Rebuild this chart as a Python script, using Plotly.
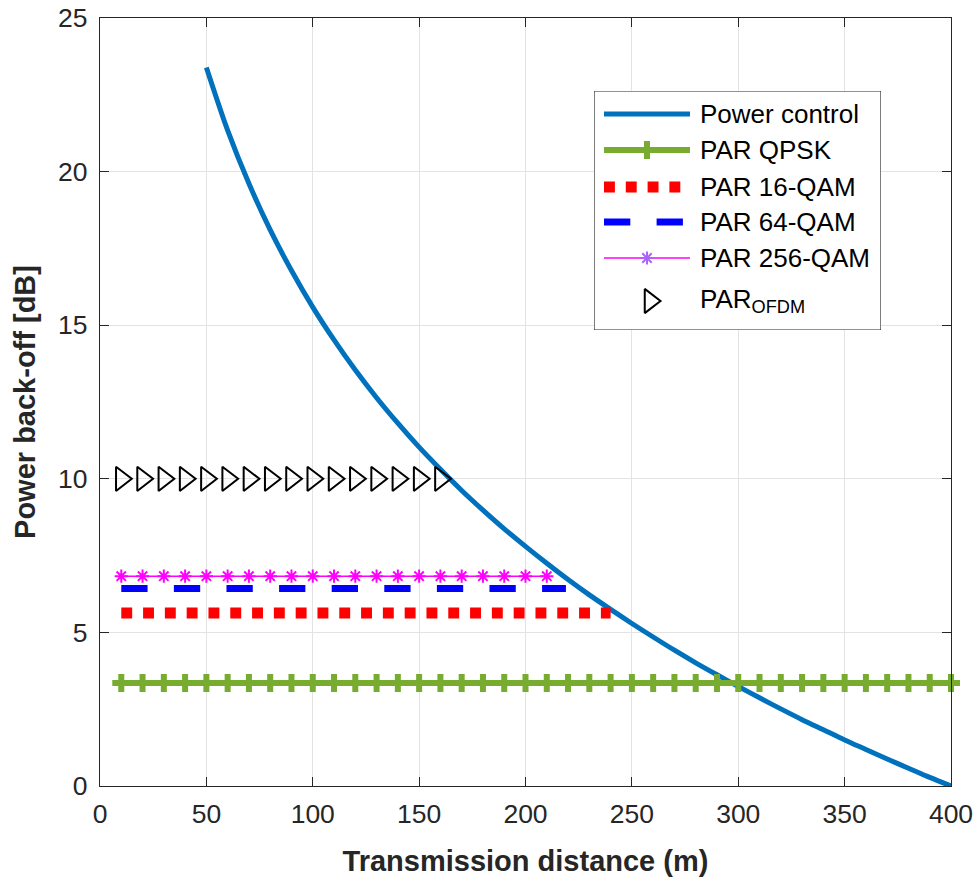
import plotly.graph_objects as go

# Power back-off needed by power control vs. transmission distance
dist_pc = [50, 60, 70, 80, 90, 100, 110, 120, 130, 140, 150, 160, 170, 180,
           190, 200, 210, 220, 230, 240, 250, 260, 270, 280, 290, 300, 310,
           320, 330, 340, 350, 360, 370, 380, 390, 400]
backoff_pc = [23.39, 21.34, 19.61, 18.10, 16.78, 15.59, 14.52, 13.54, 12.64,
              11.81, 11.03, 10.31, 9.62, 8.98, 8.37, 7.80, 7.25, 6.72, 6.22,
              5.75, 5.29, 4.85, 4.42, 4.01, 3.62, 3.24, 2.87, 2.51, 2.16,
              1.83, 1.50, 1.19, 0.88, 0.58, 0.28, 0.00]

# Peak-to-average ratios (dB) and the distance ranges they are drawn over
par_qpsk = 3.35
par_16qam = 5.63
par_64qam = 6.43
par_256qam = 6.83
par_ofdm = 10.0

dist_qpsk = list(range(10, 401, 10))
dist_16qam = [10, 240]
dist_64qam = [10, 219]
dist_256qam = list(range(10, 211, 10))
dist_ofdm = list(range(10, 161, 10))

legend_labels = ["Power control", "PAR QPSK", "PAR 16-QAM", "PAR 64-QAM",
                 "PAR 256-QAM", "PAR<sub>OFDM</sub>"]

FONT = "Liberation Sans, Arial, sans-serif"
AX = "#262626"

# line / marker styles shared by the plot and the legend key
sty_pc = dict(mode="lines", line=dict(color="#0072BD", width=5,
                                      shape="spline", smoothing=0.8))
sty_qpsk = dict(mode="lines+markers", line=dict(color="#77AC30", width=6),
                marker=dict(symbol="cross", size=15, color="#77AC30",
                            line=dict(width=0)))
sty_16 = dict(mode="lines",
              line=dict(color="#FF0000", width=11, dash="10.9px,10.9px"))
sty_64 = dict(mode="lines",
              line=dict(color="#0000FF", width=7, dash="26.3px,26.3px"))
sty_256 = dict(mode="lines+markers", line=dict(color="#FF00FF", width=1.5),
               marker=dict(symbol="asterisk-open", size=11,
                           line=dict(color="#FF00FF", width=2)))
sty_ofdm = dict(mode="markers",
                marker=dict(symbol="triangle-right-open", size=21,
                            color="black", line=dict(color="black", width=2)))

fig = go.Figure()
common = dict(showlegend=False, hoverinfo="skip", cliponaxis=False)

fig.add_trace(go.Scatter(x=dist_pc, y=backoff_pc, **sty_pc, **common))
fig.add_trace(go.Scatter(x=dist_qpsk, y=[par_qpsk] * len(dist_qpsk),
                         **sty_qpsk, **common))
fig.add_trace(go.Scatter(x=dist_16qam, y=[par_16qam] * len(dist_16qam),
                         **sty_16, **common))
fig.add_trace(go.Scatter(x=dist_64qam, y=[par_64qam] * len(dist_64qam),
                         **sty_64, **common))
fig.add_trace(go.Scatter(x=dist_256qam, y=[par_256qam] * len(dist_256qam),
                         **sty_256, **common))
fig.add_trace(go.Scatter(x=dist_ofdm, y=[par_ofdm] * len(dist_ofdm),
                         **sty_ofdm, **common))

# ---- legend key on its own overlay axes (units are pixels of the box) ----
box_x0, box_x1, box_y0, box_y1 = 594, 881, 91, 330
key_x0, key_x1, key_mid, text_x = 604, 690, 647, 698
row_y = [114, 150, 187, 222, 258, 301]

fig.add_trace(go.Scatter(
    x=[box_x0, box_x1, box_x1, box_x0, box_x0],
    y=[box_y0, box_y0, box_y1, box_y1, box_y0],
    mode="lines", fill="toself", fillcolor="white",
    line=dict(color=AX, width=1.2), xaxis="x2", yaxis="y2", **common))

for i, sty in enumerate([sty_pc, sty_qpsk, sty_16, sty_64, sty_256]):
    fig.add_trace(go.Scatter(x=[key_x0, key_x1], y=[row_y[i]] * 2,
                             mode="lines", line=sty["line"],
                             xaxis="x2", yaxis="y2", **common))
    if "markers" in sty["mode"]:
        fig.add_trace(go.Scatter(x=[key_mid], y=[row_y[i]], mode="markers",
                                 marker=sty["marker"],
                                 xaxis="x2", yaxis="y2", **common))
fig.add_trace(go.Scatter(x=[650], y=[row_y[5]], **sty_ofdm,
                         xaxis="x2", yaxis="y2", **common))

for i, lab in enumerate(legend_labels):
    fig.add_annotation(x=text_x, y=row_y[i] + (-1 if i == 5 else 0),
                       xref="x2", yref="y2", text=lab, showarrow=False,
                       xanchor="left", yanchor="middle",
                       font=dict(family=FONT, size=26, color="black"))

axis_common = dict(
    showline=True, linecolor=AX, linewidth=1.3, mirror="ticks",
    ticks="inside", ticklen=9, tickwidth=1.3, tickcolor=AX,
    showgrid=True, gridcolor="#E3E3E3", gridwidth=1, zeroline=False,
    automargin=False,
    tickfont=dict(family=FONT, size=26.5, color=AX),
)

fig.update_layout(
    width=980, height=882,
    margin=dict(l=100, r=29, t=18, b=96),
    paper_bgcolor="white", plot_bgcolor="white",
    showlegend=False,
    xaxis=dict(range=[0, 400], dtick=50, tick0=0, ticklabelstandoff=4,
               title=dict(text="<b>Transmission distance (m)</b>",
                          font=dict(family=FONT, size=29, color=AX),
                          standoff=22),
               **axis_common),
    yaxis=dict(range=[0, 25], dtick=5, tick0=0, ticklabelstandoff=6,
               title=dict(text="<b>Power back-off [dB]</b>",
                          font=dict(family=FONT, size=29, color=AX),
                          standoff=13),
               **axis_common),
    xaxis2=dict(domain=[(box_x0 - 100) / 851, (box_x1 - 100) / 851],
                range=[box_x0, box_x1], visible=False, anchor="y2",
                fixedrange=True),
    yaxis2=dict(domain=[(786 - box_y1) / 768, (786 - box_y0) / 768],
                range=[box_y1, box_y0], visible=False, anchor="x2",
                fixedrange=True),
)

fig.write_html("out.html")
